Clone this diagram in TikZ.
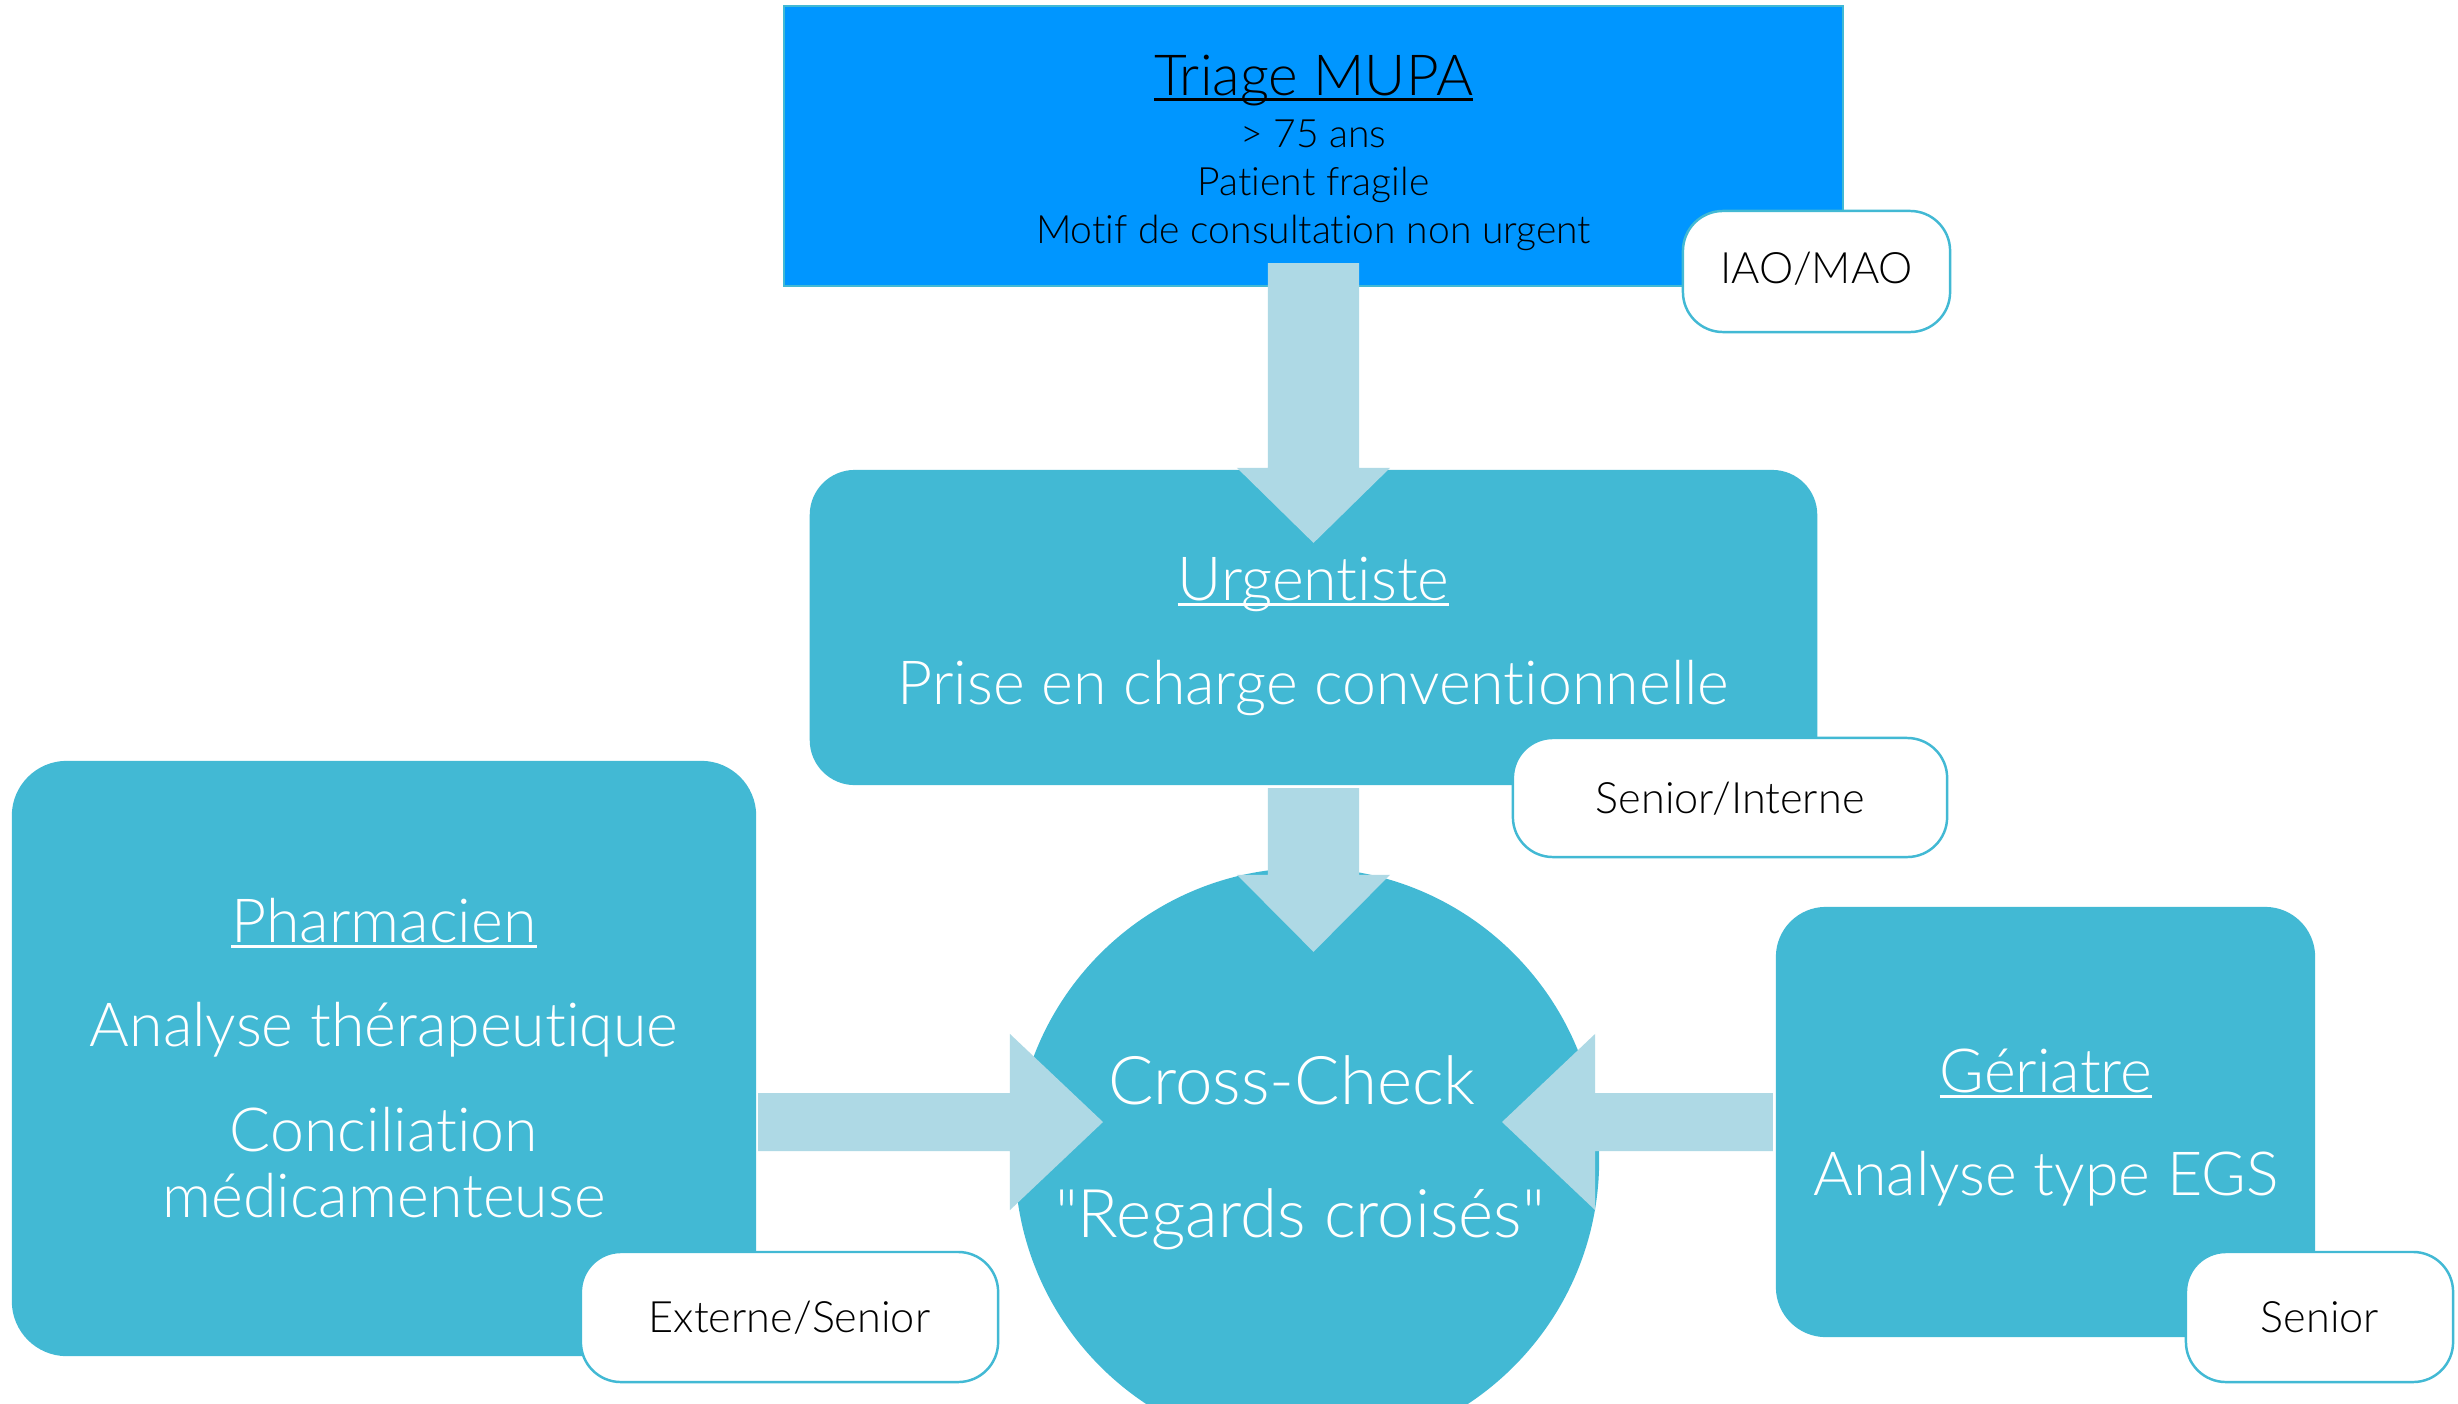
\documentclass[tikz,border=0pt]{standalone}
\usepackage{fontspec}
\setmainfont{Lato Light}[Ligatures={NoCommon,TeXOff}]
\usetikzlibrary{calc}

\definecolor{triageblue}{RGB}{0,150,255}
\definecolor{boxteal}{RGB}{66,185,212}
\definecolor{arrowblue}{RGB}{174,217,229}

% underline drawn just under the baseline, through the descenders
\newsavebox\ulbox
\newcommand\ulined[1]{\sbox\ulbox{#1}\rlap{\rule[-0.1em]{\wd\ulbox}{0.045em}}\usebox\ulbox}

% wide block arrow: #1 name, #2 start, #3 tip, #4 shaft half-width, #5 head half-width, #6 head length
\newcommand\blockarrow[6]{%
  \coordinate (#1-h) at ($(#3)!#6!(#2)$);
  \fill[arrowblue]
    ($(#2)!#4!90:(#3)$) -- ($(#1-h)!#4!90:(#3)$) -- ($(#1-h)!#5!90:(#3)$) --
    (#3) --
    ($(#1-h)!#5!-90:(#3)$) -- ($(#1-h)!#4!-90:(#3)$) -- ($(#2)!#4!-90:(#3)$) -- cycle;
}

\begin{document}
\begin{tikzpicture}[x=0.01cm, y=-0.01cm,
  every node/.style={inner sep=0pt, outer sep=0pt},
  panel/.style={fill=boxteal, rectangle},
  tagbox/.style={draw=boxteal, line width=0.7pt, fill=white, rounded corners=0.4cm, rectangle},
  bigtext/.style={text=white, anchor=base, font=\fontsize{17.3pt}{20pt}\selectfont},
  hugetext/.style={text=white, anchor=base, font=\fontsize{19.1pt}{22pt}\selectfont},
  tagtext/.style={text=black, anchor=base, font=\fontsize{12.3pt}{15pt}\selectfont},
  triagehead/.style={text=black, anchor=base, font=\fontsize{16.1pt}{19pt}\selectfont},
  triageline/.style={text=black, anchor=base, font=\fontsize{11.1pt}{14pt}\selectfont}]

\useasboundingbox (0,0) rectangle (2458,1403);
\clip (0,0) rectangle (2458,1403);
\fill[white] (0,0) rectangle (2458,1403);

% boxes
\node[rectangle, fill=triageblue, draw=boxteal, line width=0.55pt,
      minimum width=10.59cm, minimum height=2.80cm] (triage) at (1313.5,146) {};
\node[tagbox, minimum width=2.67cm, minimum height=1.21cm] (iao) at (1816.5,271.5) {};
\node[panel, rounded corners=0.45cm, minimum width=10.07cm, minimum height=3.15cm] (urg) at (1313.5,627.5) {};
\node[tagbox, minimum width=4.34cm, minimum height=1.19cm] (senint) at (1730,797.5) {};
\node[circle, fill=boxteal, minimum size=5.84cm] (cc) at (1307,1160) {};
\node[panel, rounded corners=0.55cm, minimum width=7.44cm, minimum height=5.95cm] (pharm) at (384,1058.5) {};
\node[panel, rounded corners=0.5cm, minimum width=5.39cm, minimum height=4.30cm] (ger) at (2045.5,1122) {};
\node[tagbox, minimum width=4.17cm, minimum height=1.30cm] (extsen) at (789.5,1317) {};
\node[tagbox, minimum width=2.67cm, minimum height=1.30cm] (senior) at (2319.5,1317) {};

% arrow end points
\coordinate (a1s) at ($(triage.south)+(0,-23)$);
\coordinate (a1t) at ($(urg.north)+(0,73)$);
\coordinate (a2s) at ($(urg.south)+(0,3)$);
\coordinate (a2t) at ($(cc.north)+(6.5,84)$);
\coordinate (a3s) at ($(pharm.east)+(2,63.5)$);
\coordinate (a3t) at ($(cc.center)+(-204,-38)$);
\coordinate (a4s) at ($(ger.west)+(-3,0)$);
\coordinate (a4t) at ($(cc.center)+(195,-38)$);

\blockarrow{a1}{a1s}{a1t}{0.455cm}{0.765cm}{0.75cm}
\blockarrow{a2}{a2s}{a2t}{0.455cm}{0.765cm}{0.77cm}
\blockarrow{a3}{a3s}{a3t}{0.29cm}{0.88cm}{0.93cm}
\blockarrow{a4}{a4s}{a4t}{0.29cm}{0.88cm}{0.93cm}

% texts
\node[triagehead] (t-title) at (1313.5,95) {\ulined{Triage MUPA}};
\node[triageline] (t-age) at (1313.5,147) {> 75 ans};
\node[triageline] (t-frag) at (1313.5,195) {Patient fragile};
\node[triageline] (t-motif) at (1313.5,243) {Motif de consultation non urgent};
\node[tagtext] (t-iao) at (1816.5,283) {IAO/MAO};

\node[bigtext] (t-urg) at (1313.5,600) {\ulined{Urgentiste}};
\node[bigtext] (t-prise) at (1313.5,704) {Prise en charge conventionnelle};
\node[tagtext] (t-senint) at (1730,813) {Senior/Interne};

\node[bigtext] (t-pharm) at (384,942) {\ulined{Pharmacien}};
\node[bigtext] (t-anal) at (384,1046) {Analyse thérapeutique};
\node[bigtext] (t-conc) at (384,1151) {Conciliation};
\node[bigtext] (t-medic) at (384,1217) {médicamenteuse};
\node[tagtext] (t-extsen) at (789.5,1332) {Externe/Senior};

\node[hugetext] (t-cross) at (1292,1104) {Cross-Check};
\node[hugetext] (t-regards) at (1300,1237) {"Regards croisés"};

\node[bigtext] (t-ger) at (2046,1092) {\ulined{Gériatre}};
\node[bigtext] (t-egs) at (2046,1195) {Analyse type EGS};
\node[tagtext] (t-senior) at (2320,1332) {Senior};
\end{tikzpicture}
\end{document}
